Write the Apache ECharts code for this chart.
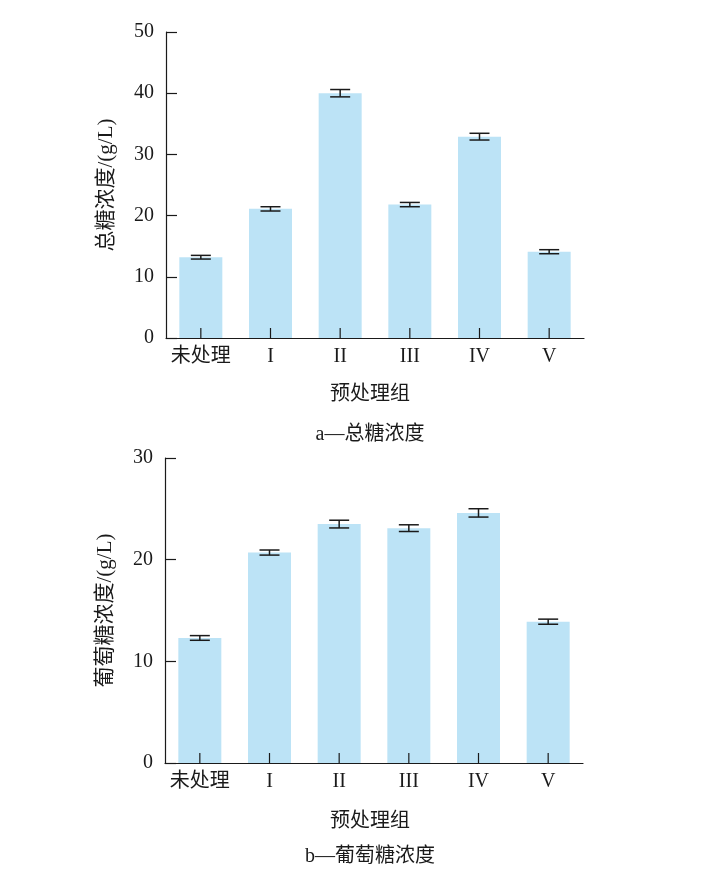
<!DOCTYPE html>
<html><head><meta charset="utf-8">
<script src="https://cdn.jsdelivr.net/npm/echarts@6/dist/echarts.min.js"></script>
<style>html,body{margin:0;padding:0;background:#fff}#c{width:718px;height:875px}</style>
</head><body><div id="c"></div>
<script>
const categories = ['未处理', 'I', 'II', 'III', 'IV', 'V'];
const totalSugar = [13.2, 21.1, 40.0, 21.8, 32.9, 14.1];
const totalSugarErr = [0.3, 0.35, 0.6, 0.35, 0.55, 0.33];
const glucose = [12.3, 20.7, 23.5, 23.1, 24.6, 13.9];
const glucoseErr = [0.23, 0.25, 0.38, 0.33, 0.41, 0.25];
const yTicksA = {min: 0, max: 50, interval: 10};
const yTicksB = {min: 0, max: 30, interval: 10};

const FONT = "'Liberation Serif', 'Noto Sans CJK SC', serif";
const BAR = '#bce3f6';
const INK = '#1a1a1a';

function errData(v, e) { return v.map((m, i) => [i, m, e[i]]); }
function errRender(params, api) {
  const x = api.value(0), y = api.value(1), e = api.value(2);
  const t = api.coord([x, y + e]), b = api.coord([x, y - e]);
  const base = api.coord([x, 0]);
  const h = 10, st = {stroke: INK, lineWidth: 1.5};
  return {type: 'group', children: [
    {type: 'line', shape: {x1: t[0], y1: t[1], x2: b[0], y2: b[1]}, style: st},
    {type: 'line', shape: {x1: t[0] - h, y1: t[1], x2: t[0] + h, y2: t[1]}, style: st},
    {type: 'line', shape: {x1: b[0] - h, y1: b[1], x2: b[0] + h, y2: b[1]}, style: st},
    {type: 'line', shape: {x1: base[0], y1: base[1], x2: base[0], y2: base[1] - 10}, style: {stroke: INK, lineWidth: 1.2}}
  ]};
}
function xAx(gi) {
  return {type: 'category', gridIndex: gi, data: categories, z: 10,
    axisLine: {lineStyle: {color: INK, width: 1.2}},
    axisTick: {alignWithLabel: true, interval: 0, inside: true, length: 10, lineStyle: {color: INK, width: 1.2}},
    axisLabel: {interval: 0, fontFamily: FONT, fontSize: 20, color: INK, margin: 9}};
}
function yAx(gi, t, name) {
  return {type: 'value', gridIndex: gi, min: t.min, max: t.max, interval: t.interval,
    name: name, nameLocation: 'middle', nameGap: 49, nameRotate: 90,
    nameTextStyle: {fontFamily: FONT, fontSize: 21, color: INK},
    axisLine: {show: true, lineStyle: {color: INK, width: 1.2}},
    axisTick: {show: true, inside: true, length: 11, lineStyle: {color: INK, width: 1.2}},
    splitLine: {show: false},
    axisLabel: {fontFamily: FONT, fontSize: 20, color: INK, margin: 12}};
}
function caption(text, y) {
  return {type: 'text', x: 370, y: y, style: {text: text, font: '20px ' + FONT, fill: INK, textAlign: 'center', textVerticalAlign: 'middle'}};
}
const chart = echarts.init(document.getElementById('c'), null, {renderer: 'canvas'});
chart.setOption({
  animation: false,
  backgroundColor: '#fff',
  grid: [
    {left: 166, width: 418, top: 32, height: 306},
    {left: 165, width: 418, top: 458, height: 305}
  ],
  xAxis: [xAx(0), xAx(1)],
  yAxis: [yAx(0, yTicksA, '总糖浓度/(g/L)'), yAx(1, yTicksB, '葡萄糖浓度/(g/L)')],
  series: [
    {type: 'bar', xAxisIndex: 0, yAxisIndex: 0, data: totalSugar, barWidth: 43, itemStyle: {color: BAR}},
    {type: 'custom', xAxisIndex: 0, yAxisIndex: 0, data: errData(totalSugar, totalSugarErr), renderItem: errRender, z: 5},
    {type: 'bar', xAxisIndex: 1, yAxisIndex: 1, data: glucose, barWidth: 43, itemStyle: {color: BAR}},
    {type: 'custom', xAxisIndex: 1, yAxisIndex: 1, data: errData(glucose, glucoseErr), renderItem: errRender, z: 5}
  ],
  graphic: [
    caption('预处理组', 395),
    caption('a—总糖浓度', 435),
    caption('预处理组', 822),
    caption('b—葡萄糖浓度', 857)
  ]
});
</script></body></html>
